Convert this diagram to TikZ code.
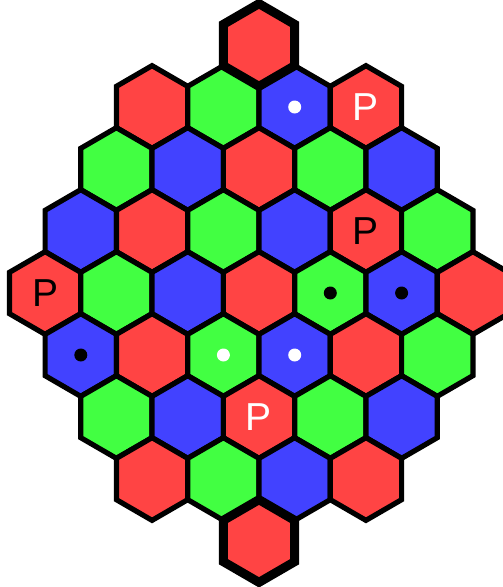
\documentclass[tikz,border=0pt]{standalone}
\usepackage{fontspec}
\setmainfont{Liberation Sans}
\definecolor{hr}{HTML}{FF4444}
\definecolor{hg}{HTML}{42FF42}
\definecolor{hb}{HTML}{4242FF}
\newcommand\hexcell[4][cellline]{%
  \filldraw[fill=#4, #1] (#2,#3) ++(0,-41.33) -- ++(35.65,20.67) -- ++(0,41.33)
    -- ++(-35.65,20.67) -- ++(-35.65,-20.67) -- ++(0,-41.33) -- cycle;}
\begin{document}
\begin{tikzpicture}[x=1pt,y=-1pt,
  cellline/.style={draw=black, line width=5.2pt, line join=miter},
  thickline/.style={draw=black, line width=9pt, line join=miter},
  plabel/.style={inner sep=0pt, font=\fontsize{39}{39}\selectfont},
  dot/.style={circle, inner sep=0pt, minimum size=13pt}]
\useasboundingbox (0,0) rectangle (503,587);
\clip (0,0) rectangle (503,587);
\foreach \c/\r/\col in {
  0/1/hr,
  -1.5/2/hr, -0.5/2/hg, 0.5/2/hb, 1.5/2/hr,
  -2/3/hg, -1/3/hb, 0/3/hr, 1/3/hg, 2/3/hb,
  -2.5/4/hb, -1.5/4/hr, -0.5/4/hg, 0.5/4/hb, 1.5/4/hr, 2.5/4/hg,
  -3/5/hr, -2/5/hg, -1/5/hb, 0/5/hr, 1/5/hg, 2/5/hb, 3/5/hr,
  -2.5/6/hb, -1.5/6/hr, -0.5/6/hg, 0.5/6/hb, 1.5/6/hr, 2.5/6/hg,
  -2/7/hg, -1/7/hb, 0/7/hr, 1/7/hg, 2/7/hb,
  -1.5/8/hr, -0.5/8/hg, 0.5/8/hb, 1.5/8/hr,
  0/9/hr}{
  \pgfmathsetmacro\hx{259+\c*71.3}
  \pgfmathsetmacro\hy{45+(\r-1)*62}
  \hexcell{\hx}{\hy}{\col}
}
% top and bottom cells with heavy outline
\hexcell[thickline]{259}{45}{hr}
\hexcell[thickline]{259}{541}{hr}
% labels
\node[plabel, text=white] (p1) at (366.0,107) {P};
\node[plabel, text=black] (p2) at (366.0,231) {P};
\node[plabel, text=black] (p3) at (45.1,293) {P};
\node[plabel, text=white] (p4) at (259,417) {P};
% dots
\node[dot, fill=white] (d1) at (294.7,107) {};
\node[dot, fill=black] (d2) at (330.3,293) {};
\node[dot, fill=black] (d3) at (401.6,293) {};
\node[dot, fill=black] (d4) at (80.8,355) {};
\node[dot, fill=white] (d5) at (223.4,355) {};
\node[dot, fill=white] (d6) at (294.7,355) {};
\end{tikzpicture}
\end{document}
